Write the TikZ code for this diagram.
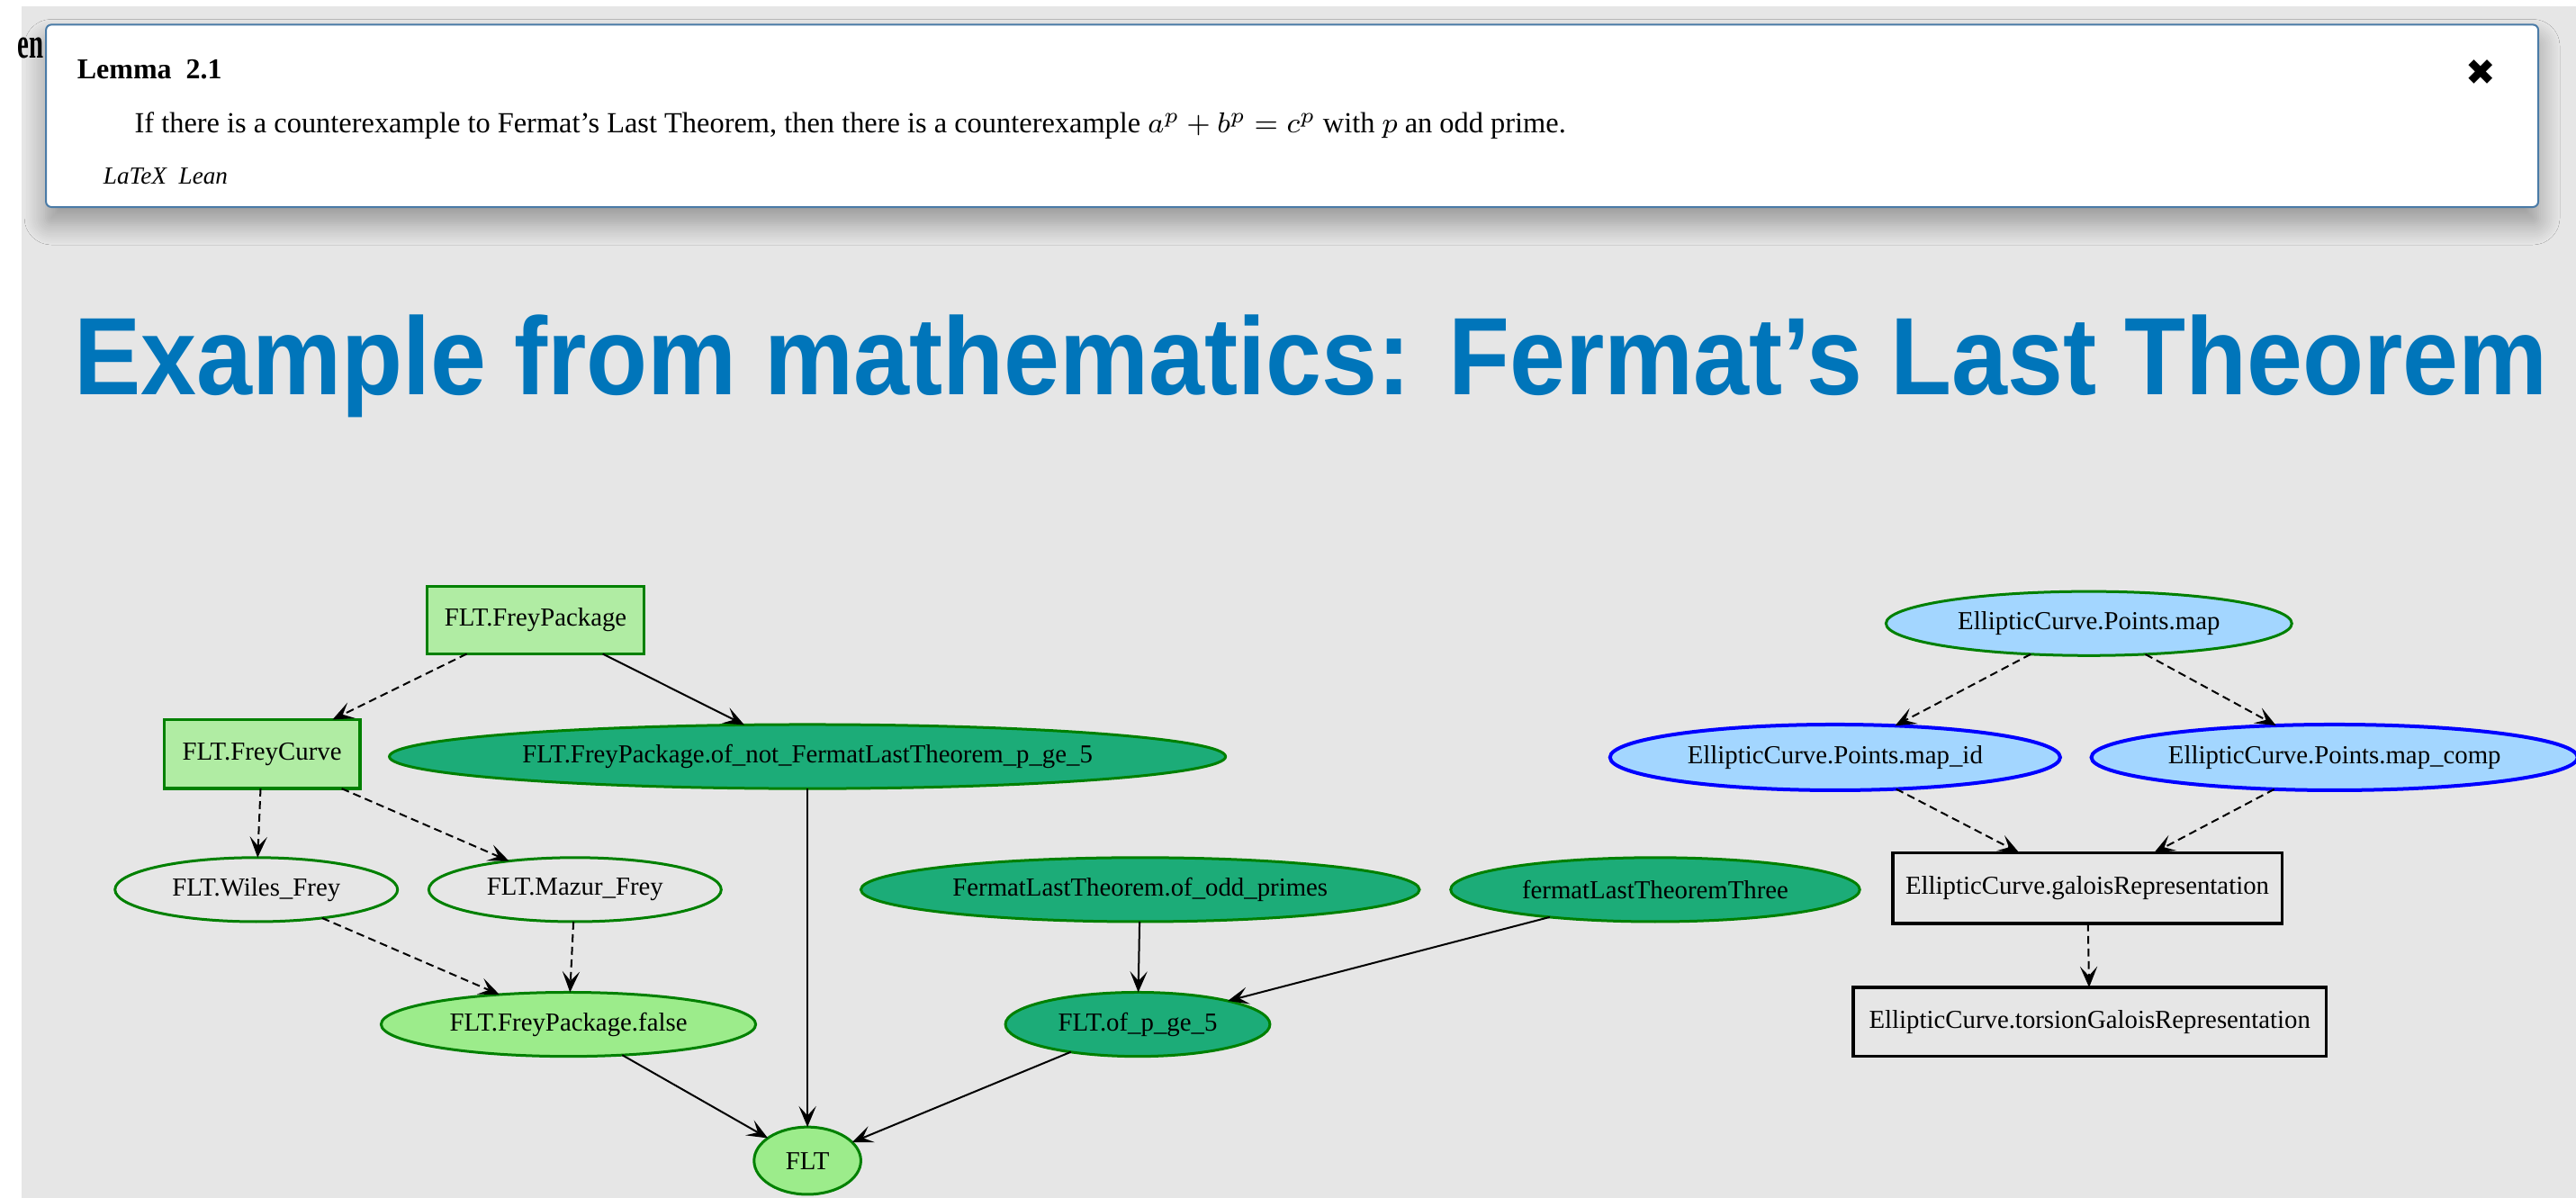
\documentclass[tikz,border=0pt]{standalone}
\usepackage{fontspec}
\setmainfont{Liberation Serif}
\newfontfamily\titlefont[FakeStretch=0.91]{Liberation Sans}
\newfontfamily\symfont{DejaVu Sans}
\usetikzlibrary{shapes.geometric,arrows.meta,shadows.blur}
\definecolor{bggrey}{HTML}{E6E6E6}
\definecolor{titleblue}{HTML}{0075BA}
\definecolor{defgreen}{HTML}{B0ECA3}
\definecolor{provgreen}{HTML}{9CEC8B}
\definecolor{fullgreen}{HTML}{1CAC78}
\definecolor{canblue}{HTML}{A3D6FF}
\definecolor{bordgreen}{HTML}{008000}
\definecolor{boxblue}{HTML}{4A7BA7}
\newcommand\spx{0.45625pt}
\begin{document}
\begin{tikzpicture}[x=0.45625pt,y=-0.45625pt,
  every node/.style={inner sep=0pt, outer sep=0pt},
  gnode/.style={font=\fontsize{7.2}{8}\selectfont, line width=0.75pt},
  ell/.style={gnode, ellipse, draw=bordgreen},
  rectnode/.style={gnode, rectangle, draw=bordgreen, line width=0.9pt},
  blacknode/.style={gnode, rectangle, draw=black, line width=0.9pt},
  bluenode/.style={gnode, ellipse, draw=blue, fill=canblue, line width=1pt},
  dep/.style={-{Stealth[length=5.8pt,width=4.8pt,inset=2.6pt]}, line width=0.5pt, black},
  weak/.style={dep, dash pattern=on 2.2pt off 1.3pt},
]
% page
\useasboundingbox (0,0) rectangle (1568,729);
\fill[white] (0,0) rectangle (1568,729);
\fill[bggrey] (13,4) rectangle (1568,729);

% partial heading behind the lemma box
\node[anchor=base east, font=\bfseries\fontsize{12}{14}\selectfont] (hidden) at (26.5,35.6) {\scalebox{0.6}[1]{en}};

% lemma box
\node[draw=boxblue, line width=0.5pt, rounded corners=1.5pt, fill=white,
  minimum width=1517*\spx, minimum height=111*\spx,
  blur shadow={shadow xshift=0pt, shadow yshift=-4.5pt, shadow blur radius=6pt, shadow blur steps=12, shadow opacity=35}]
  (lemmabox) at (786.5,70.5) {};
\node[anchor=base west, font=\bfseries\fontsize{8}{10}\selectfont] (lemmatitle) at (47,48) {Lemma\ \ 2.1};
\node[anchor=base west, font=\fontsize{8.1}{10}\selectfont] (lemmabody) at (82,81)
  {If there is a counterexample to Fermat’s Last Theorem, then there is a counterexample $a^p+b^p=c^p$ with $p$ an odd prime.};
\node[anchor=base west, font=\itshape\fontsize{6.8}{8}\selectfont] (langs) at (63,112) {LaTeX\ \ Lean};
\node[font=\symfont\fontsize{10}{12}\selectfont] (close) at (1510,44) {✖};

% title
\node[anchor=base west, font=\titlefont\bfseries\fontsize{30.6}{36}\selectfont, text=titleblue]
  (title) at (45,240) {Example from mathematics: Fermat’s Last Theorem};

% graph nodes
\node[rectnode, fill=defgreen, minimum width=132*\spx, minimum height=41*\spx] (fp) at (326,377.5) {FLT.FreyPackage};
\node[rectnode, fill=defgreen, minimum width=119*\spx, minimum height=42*\spx] (fc) at (159.5,459) {FLT.FreyCurve};
\node[ell, fill=fullgreen, minimum width=509*\spx, minimum height=39*\spx] (ofnot) at (491.5,460.5) {FLT.FreyPackage.of\_not\_FermatLastTheorem\_p\_ge\_5};
\node[ell, minimum width=172*\spx, minimum height=39*\spx] (wiles) at (156,541.5) {FLT.Wiles\_Frey};
\node[ell, minimum width=178*\spx, minimum height=39*\spx] (mazur) at (350,541.5) {FLT.Mazur\_Frey};
\node[ell, fill=fullgreen, minimum width=340*\spx, minimum height=39*\spx] (oddp) at (694,541.5) {FermatLastTheorem.of\_odd\_primes};
\node[ell, fill=fullgreen, minimum width=249*\spx, minimum height=39*\spx] (three) at (1007.5,541.5) {fermatLastTheoremThree};
\node[ell, fill=provgreen, minimum width=228*\spx, minimum height=39*\spx] (false) at (346,623.5) {FLT.FreyPackage.false};
\node[ell, fill=fullgreen, minimum width=161*\spx, minimum height=39*\spx] (pge) at (692.5,623.5) {FLT.of\_p\_ge\_5};
\node[ell, fill=provgreen, minimum width=65*\spx, minimum height=41*\spx] (flt) at (491.5,706.5) {FLT};

\node[ell, fill=canblue, minimum width=247*\spx, minimum height=39*\spx] (map) at (1271.5,379.5) {EllipticCurve.Points.map};
\node[bluenode, minimum width=274*\spx, minimum height=40*\spx] (mapid) at (1117,461) {EllipticCurve.Points.map\_id};
\node[bluenode, minimum width=296*\spx, minimum height=40*\spx] (mapcomp) at (1421,461) {EllipticCurve.Points.map\_comp};
\node[blacknode, minimum width=237*\spx, minimum height=43*\spx] (galois) at (1270.5,540.5) {EllipticCurve.galoisRepresentation};
\node[blacknode, minimum width=288*\spx, minimum height=42*\spx] (torsion) at (1272,622) {EllipticCurve.torsionGaloisRepresentation};

% edges
\draw[weak] (fp) -- (fc);
\draw[dep] (fp) -- (ofnot);
\draw[weak] (fc) -- (wiles);
\draw[weak] (fc) -- (mazur);
\draw[weak] (wiles) -- (false);
\draw[weak] (mazur) -- (false);
\draw[dep] (ofnot) -- (flt);
\draw[dep] (false) -- (flt);
\draw[dep] (oddp) -- (pge);
\draw[dep] (three) -- (pge);
\draw[dep] (pge) -- (flt);
\draw[weak] (map) -- (mapid);
\draw[weak] (map) -- (mapcomp);
\draw[weak] (mapid) -- (galois);
\draw[weak] (mapcomp) -- (galois);
\draw[weak] (galois) -- (torsion);
\end{tikzpicture}
\end{document}
